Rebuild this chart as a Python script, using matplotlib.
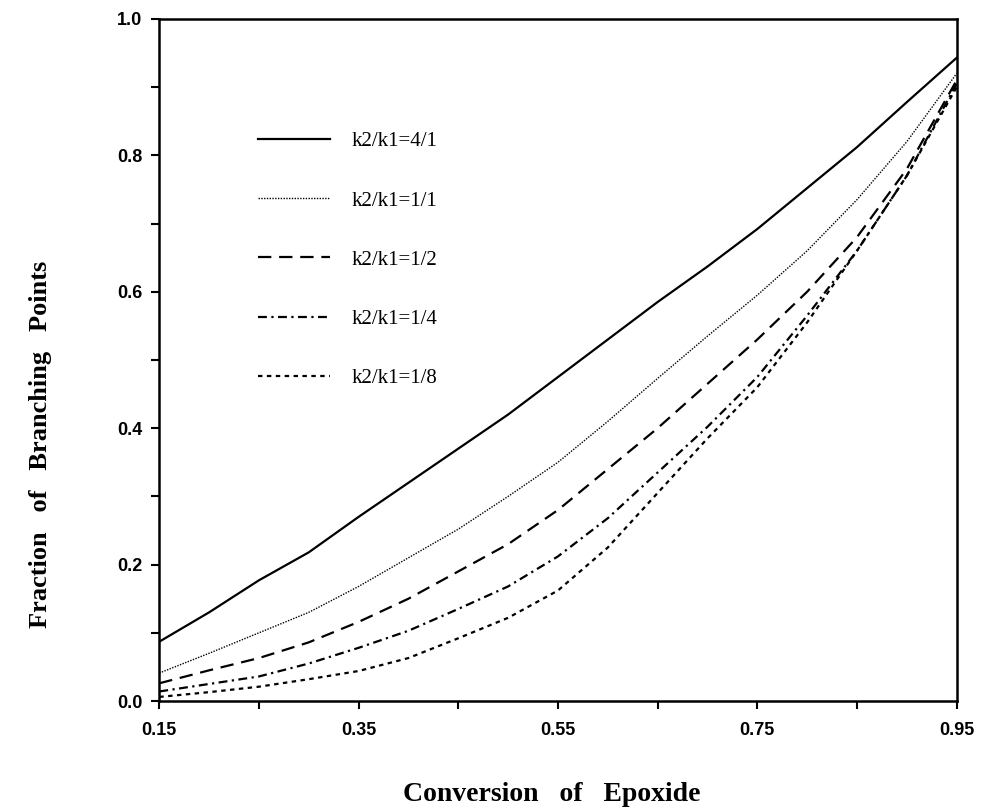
import matplotlib
matplotlib.use("Agg")
import matplotlib.pyplot as plt
from matplotlib.ticker import MultipleLocator, FixedLocator

# conversion of epoxide (x) and fraction of branching points for each k2/k1
conversion = [0.15, 0.20, 0.25, 0.30, 0.35, 0.40, 0.45, 0.50, 0.55,
              0.60, 0.65, 0.70, 0.75, 0.80, 0.85, 0.90, 0.95]
frac_4_1 = [0.087, 0.130, 0.177, 0.218, 0.270, 0.320, 0.370, 0.420, 0.475,
            0.530, 0.585, 0.637, 0.692, 0.752, 0.812, 0.878, 0.943]
frac_1_1 = [0.041, 0.070, 0.100, 0.130, 0.168, 0.210, 0.252, 0.300, 0.350,
            0.410, 0.473, 0.535, 0.595, 0.660, 0.735, 0.820, 0.920]
frac_1_2 = [0.026, 0.045, 0.063, 0.086, 0.116, 0.150, 0.190, 0.230, 0.280,
            0.340, 0.400, 0.465, 0.530, 0.600, 0.680, 0.780, 0.910]
frac_1_4 = [0.014, 0.025, 0.036, 0.055, 0.078, 0.103, 0.135, 0.168, 0.212,
            0.268, 0.335, 0.402, 0.475, 0.565, 0.660, 0.770, 0.905]
frac_1_8 = [0.006, 0.013, 0.021, 0.032, 0.044, 0.063, 0.092, 0.122, 0.162,
            0.225, 0.305, 0.385, 0.460, 0.555, 0.660, 0.770, 0.900]
labels = ['k2/k1=4/1', 'k2/k1=1/1', 'k2/k1=1/2', 'k2/k1=1/4', 'k2/k1=1/8']

fig = plt.figure(figsize=(10.08, 8.08), dpi=100)
ax = fig.add_axes([0.158, 0.1324, 0.791, 0.8441])

ax.plot(conversion, frac_4_1, color='black', lw=1.6, label=labels[0])
ax.plot(conversion, frac_1_1, color='black', lw=1.0, dashes=(1, 1), label=labels[1])
ax.plot(conversion, frac_1_2, color='black', lw=1.6, dashes=(6, 3.5), label=labels[2])
ax.plot(conversion, frac_1_4, color='black', lw=1.6, dashes=(4, 2, 1, 2), label=labels[3])
ax.plot(conversion, frac_1_8, color='black', lw=1.6, dashes=(2, 2), label=labels[4])

ax.set_xlim(0.15, 0.95)
ax.set_ylim(0.0, 1.0)
ax.xaxis.set_major_locator(FixedLocator([0.15, 0.35, 0.55, 0.75, 0.95]))
ax.xaxis.set_minor_locator(FixedLocator([0.25, 0.45, 0.65, 0.85]))
ax.yaxis.set_major_locator(MultipleLocator(0.2))
ax.yaxis.set_minor_locator(MultipleLocator(0.1))
ax.xaxis.set_major_formatter(plt.FuncFormatter(lambda v, p: '%.2f' % v))
ax.yaxis.set_major_formatter(plt.FuncFormatter(lambda v, p: '%.1f' % v))
ax.tick_params(which='both', direction='out', length=6, width=1.5)
ax.tick_params(axis='x', which='major', pad=9)
ax.tick_params(axis='y', which='major', pad=6)
for lab in ax.get_xticklabels() + ax.get_yticklabels():
    lab.set_fontfamily('Liberation Sans')
    lab.set_fontweight('bold')
    lab.set_fontsize(13)
for sp in ax.spines.values():
    sp.set_linewidth(1.8)

fig.text(0.547, 0.009, 'Conversion   of   Epoxide', fontfamily='Liberation Serif',
         fontweight='bold', fontsize=20, ha='center', va='baseline')
fig.text(0.04, 0.45, 'Fraction   of   Branching   Points', fontfamily='Liberation Serif',
         fontweight='bold', fontsize=19, ha='center', va='center', rotation=90)

ax.legend(loc='upper left', bbox_to_anchor=(0.10, 0.862), frameon=False,
          handlelength=3.45, handletextpad=1.05, labelspacing=1.9,
          prop={'family': 'Liberation Serif', 'size': 15})

fig.savefig('out.png', dpi=100)
